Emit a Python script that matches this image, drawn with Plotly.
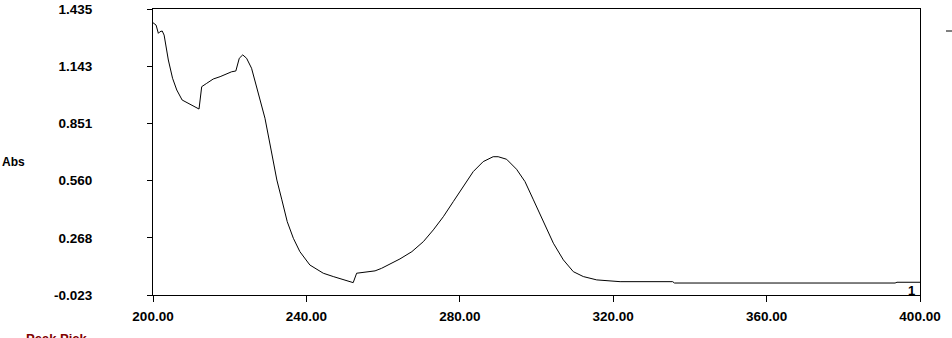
import plotly.graph_objects as go

wavelength = [200.0, 200.8, 201.4, 201.8, 202.4, 202.9, 204.0, 205.1, 206.2, 207.6,
              212.0, 212.7, 214.0, 215.7, 217.5, 220.5, 221.6, 222.5, 223.4, 224.4,
              225.7, 227.0, 229.2, 230.8, 232.3, 233.6, 235.0, 236.6, 238.3, 240.9,
              244.4, 247.0, 252.2, 253.1, 255.7, 257.9, 259.6, 262.2, 264.4, 267.5,
              270.5, 273.1, 275.7, 278.3, 280.9, 283.5, 286.1, 288.7, 290.0, 292.2,
              294.8, 297.0, 299.2, 301.8, 304.4, 307.0, 309.6, 312.2, 315.7, 321.8,
              335.5, 336.0, 393.5, 394.0, 400.0]
absorbance = [1.365, 1.353, 1.311, 1.319, 1.323, 1.302, 1.175, 1.082, 1.022, 0.971,
              0.925, 1.039, 1.056, 1.078, 1.090, 1.115, 1.119, 1.184, 1.201, 1.184,
              1.133, 1.039, 0.878, 0.716, 0.563, 0.462, 0.351, 0.266, 0.198, 0.130,
              0.088, 0.071, 0.040, 0.088, 0.093, 0.100, 0.113, 0.139, 0.161, 0.198,
              0.249, 0.309, 0.376, 0.453, 0.533, 0.606, 0.657, 0.682, 0.682, 0.669,
              0.618, 0.555, 0.462, 0.351, 0.241, 0.156, 0.096, 0.071, 0.054, 0.045,
              0.045, 0.038, 0.038, 0.042, 0.042]

x_ticks = [200, 240, 280, 320, 360, 400]
y_ticks = [-0.023, 0.268, 0.560, 0.851, 1.143, 1.435]
y_ticktext = ["-0.023", "0.268", "0.560", "0.851", "1.143", "1.435"]

FONT = "Liberation Sans"
tick_font = dict(family=FONT, size=13.5, color="black", weight="bold")

fig = go.Figure()
fig.add_trace(go.Scatter(x=wavelength, y=absorbance, mode="lines",
                         line=dict(color="black", width=1), showlegend=False,
                         hoverinfo="skip"))

fig.update_layout(
    width=952, height=338,
    margin=dict(l=153, r=32, t=9, b=43, autoexpand=False),
    paper_bgcolor="white", plot_bgcolor="white",
    xaxis=dict(range=[200, 400], tickvals=x_ticks, tickformat=".2f",
               ticks="outside", ticklen=6, tickcolor="black", tickwidth=1,
               showline=True, linecolor="black", linewidth=1, mirror=True,
               showgrid=False, zeroline=False, tickfont=tick_font,
               ticklabelstandoff=3, automargin=False),
    yaxis=dict(range=[-0.023, 1.435], tickvals=y_ticks, ticktext=y_ticktext,
               ticks="outside", ticklen=5, tickcolor="black", tickwidth=1,
               showline=True, linecolor="black", linewidth=1, mirror=True,
               showgrid=False, zeroline=False, tickfont=tick_font,
               ticklabelstandoff=52, automargin=False),
)

fig.add_annotation(text="Abs", xref="paper", yref="paper",
                   x=-153/767, y=(295-162)/286, xanchor="left", yanchor="middle",
                   showarrow=False, font=dict(family=FONT, size=12, color="black", weight="bold"))
fig.add_annotation(text="1", xref="paper", yref="paper",
                   x=(911-153)/767, y=(295-290)/286, xanchor="center", yanchor="middle",
                   showarrow=False, font=dict(family=FONT, size=13, color="black", weight="bold"))
fig.add_annotation(text="Peak Pick", xref="paper", yref="paper",
                   x=(56-153)/767, y=(295-329)/286, xanchor="center", yanchor="top",
                   showarrow=False, font=dict(family=FONT, size=13, color="#800000", weight="bold"))
fig.add_shape(type="line", xref="paper", yref="paper",
              x0=(946-153)/767, x1=(952-153)/767, y0=(295-31)/286, y1=(295-31)/286,
              line=dict(color="black", width=1))

fig.write_html("out.html")
